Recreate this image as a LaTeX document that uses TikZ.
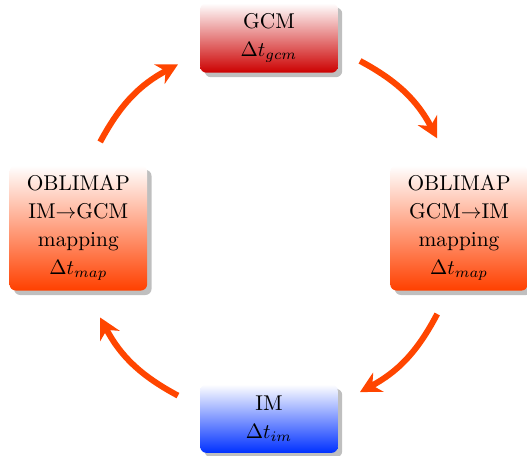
\documentclass[tikz,border=0pt]{standalone}
\usepackage{tikz}
\usetikzlibrary{arrows.meta, shadows}
\definecolor{rojo}{RGB}{204,0,0}
\definecolor{naranja}{RGB}{255,64,0}
\definecolor{azul}{RGB}{0,48,255}
\definecolor{flechac}{RGB}{255,69,0}
\tikzset{
  caja/.style={rounded corners=3pt, drop shadow, top color=white, align=center,
               minimum width=2.33cm, inner sep=4pt, font=\fontsize{10.3}{13.4}\selectfont},
  gcmbox/.style={caja, bottom color=rojo, minimum height=1.18cm},
  imbox/.style={caja, bottom color=azul, minimum height=1.16cm},
  mapbox/.style={caja, bottom color=naranja, minimum height=2.12cm},
  flecha/.style={-{Stealth[length=10pt, width=10.5pt]}, line width=2.9pt, flechac},
}

\begin{document}
\begin{tikzpicture}
  \useasboundingbox (-4.557,-3.862) rectangle (4.371,3.862);
  \node[gcmbox] (gcm) at (0,3.22) {GCM\\$\Delta t_{gcm}$};
  \node[mapbox] (rmap) at (3.22,0) {OBLIMAP\\GCM$\rightarrow$IM\\mapping\\$\Delta t_{map}$};
  \node[imbox] (im) at (0,-3.23) {IM\\$\Delta t_{im}$};
  \node[mapbox] (lmap) at (-3.23,0) {OBLIMAP\\IM$\rightarrow$GCM\\mapping\\$\Delta t_{map}$};
  \draw[flecha] ([shift={(0.37,-0.39)}]gcm.east) to[bend left=17] ([shift={(-0.37,0.45)}]rmap.north);
  \draw[flecha] ([shift={(-0.37,-0.39)}]rmap.south) to[bend left=17] ([shift={(0.37,0.45)}]im.east);
  \draw[flecha] ([shift={(-0.37,0.39)}]im.west) to[bend left=17] ([shift={(0.37,-0.45)}]lmap.south);
  \draw[flecha] ([shift={(0.37,0.39)}]lmap.north) to[bend left=17] ([shift={(-0.37,-0.45)}]gcm.west);
\end{tikzpicture}
\end{document}
